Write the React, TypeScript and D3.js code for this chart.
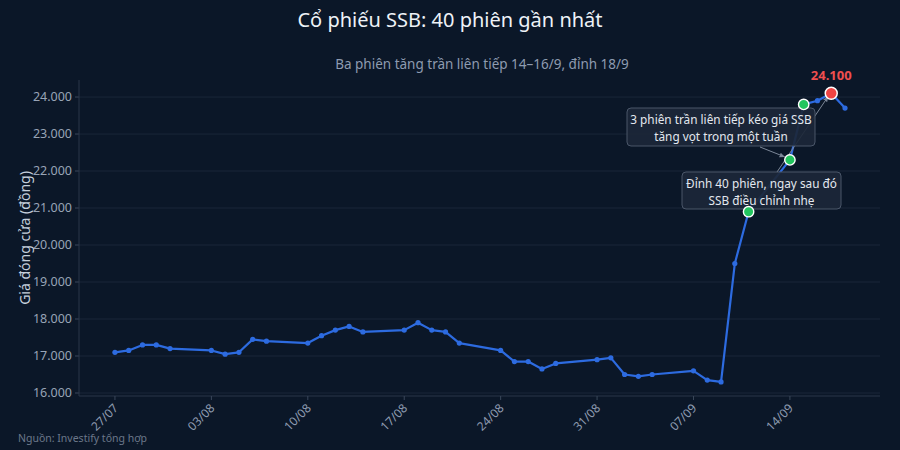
import React from 'react';
import * as d3 from 'd3';

const dates = [
  '2020-07-27', '2020-07-28', '2020-07-29', '2020-07-30', '2020-07-31',
  '2020-08-03', '2020-08-04', '2020-08-05', '2020-08-06', '2020-08-07',
  '2020-08-10', '2020-08-11', '2020-08-12', '2020-08-13', '2020-08-14',
  '2020-08-17', '2020-08-18', '2020-08-19', '2020-08-20', '2020-08-21',
  '2020-08-24', '2020-08-25', '2020-08-26', '2020-08-27', '2020-08-28',
  '2020-08-31', '2020-09-01', '2020-09-02', '2020-09-03', '2020-09-04',
  '2020-09-07', '2020-09-08', '2020-09-09', '2020-09-10', '2020-09-11',
  '2020-09-14', '2020-09-15', '2020-09-16', '2020-09-17', '2020-09-18',
];

const prices = [
  17100, 17150, 17300, 17300, 17200,
  17150, 17050, 17100, 17450, 17400,
  17350, 17550, 17700, 17800, 17650,
  17700, 17900, 17700, 17650, 17350,
  17150, 16850, 16850, 16650, 16800,
  16900, 16950, 16500, 16450, 16500,
  16600, 16350, 16300, 19500, 20900,
  22300, 23800, 23900, 24100, 23700,
];

// green = ceiling sessions, red = peak
const ceilingIdx = [34, 35, 36];
const peakIdx = 38;

const yTicks = [16000, 17000, 18000, 19000, 20000, 21000, 22000, 23000, 24000];
const xTickDates = ['2020-07-27', '2020-08-03', '2020-08-10', '2020-08-17', '2020-08-24', '2020-08-31', '2020-09-07', '2020-09-14'];

const title = 'Cổ phiếu SSB: 40 phiên gần nhất';
const subtitle = 'Ba phiên tăng trần liên tiếp 14–16/9, đỉnh 18/9';
const yLabel = 'Giá đóng cửa (đồng)';
const source = 'Nguồn: Investify tổng hợp';
const noteCeiling = ['3 phiên trần liên tiếp kéo giá SSB', 'tăng vọt trong một tuần'];
const notePeak = ['Đỉnh 40 phiên, ngay sau đó', 'SSB điều chỉnh nhẹ'];

const W = 900;
const H = 450;
const margin = { top: 80, right: 20, bottom: 54, left: 79 };
const font = '"Noto Sans", "Open Sans", sans-serif';

const parse = d3.utcParse('%Y-%m-%d');
const fmtNum = (v: number) => d3.format(',')(v).replace(/,/g, '.');
const fmtDate = d3.utcFormat('%d/%m');

const App: React.FC = () => {
  const data = dates.map((d, i) => ({ date: parse(d)!, price: prices[i] }));
  const day = 86400000;
  const first = data[0].date.getTime();
  const last = data[data.length - 1].date.getTime();

  const x = d3
    .scaleUtc()
    .domain([new Date(first - 2.61 * day), new Date(last + 2.54 * day)])
    .range([margin.left, W - margin.right]);
  const y = d3
    .scaleLinear()
    .domain([15919, 24460])
    .range([H - margin.bottom, margin.top]);

  const line = d3
    .line<{ date: Date; price: number }>()
    .x((d) => x(d.date))
    .y((d) => y(d.price));

  const peak = data[peakIdx];
  const hit = data[35];

  // annotation boxes (pixel layout)
  const box1 = { x: 627, y: 108, w: 188, h: 38 };
  const box2 = { x: 682, y: 172, w: 159, h: 37 };

  return (
    <svg width={W} height={H} style={{ position: 'fixed', left: 0, top: 0, background: '#0b1728' }}>
      <defs>
        <marker id="arr" viewBox="0 0 10 10" refX="9" refY="5" markerWidth="6" markerHeight="6" orient="auto-start-reverse">
          <path d="M0,1 L9,5 L0,9 Z" fill="#7c8798" />
        </marker>
      </defs>
      <rect width={W} height={H} fill="#0b1728" />
      <text x={W / 2} y={27} textAnchor="middle" fontFamily={font} fontSize={20} fill="#eef2f7">
        {title}
      </text>
      <text x={482} y={69} textAnchor="middle" fontFamily={font} fontSize={13.5} fill="#8e9bb0">
        {subtitle}
      </text>

      {/* grid */}
      {yTicks.map((t) => (
        <g key={t}>
          <line x1={margin.left} x2={W - margin.right} y1={y(t)} y2={y(t)} stroke="#1a2739" strokeWidth={1} />
          <line x1={margin.left - 4} x2={margin.left} y1={y(t)} y2={y(t)} stroke="#3a475a" />
          <text x={margin.left - 7} y={y(t)} dy="0.35em" textAnchor="end" fontFamily={font} fontSize={12.5} fill="#98a4b6">
            {fmtNum(t)}
          </text>
        </g>
      ))}

      {/* axes */}
      <line x1={margin.left} x2={margin.left} y1={margin.top} y2={H - margin.bottom} stroke="#2a3648" />
      <line x1={margin.left} x2={W - margin.right} y1={H - margin.bottom} y2={H - margin.bottom} stroke="#2a3648" />
      {xTickDates.map((s) => {
        const d = parse(s)!;
        const px = x(d);
        return (
          <g key={s}>
            <line x1={px} x2={px} y1={H - margin.bottom} y2={H - margin.bottom + 4} stroke="#3a475a" />
            <text
              transform={`translate(${px + 1},${H - margin.bottom + 10}) rotate(-45)`}
              textAnchor="end"
              dy="0.35em"
              fontFamily={font}
              fontSize={12}
              fill="#8e9bb0"
            >
              {fmtDate(d)}
            </text>
          </g>
        );
      })}

      <text
        transform={`translate(30,${(margin.top + H - margin.bottom) / 2}) rotate(-90)`}
        textAnchor="middle"
        fontFamily={font}
        fontSize={14}
        fill="#c5cfdc"
      >
        {yLabel}
      </text>

      {/* series */}
      <path d={line(data) ?? ''} fill="none" stroke="#2d6be0" strokeWidth={2.2} strokeLinejoin="round" />
      {data.map((d, i) => (
        <circle key={i} cx={x(d.date)} cy={y(d.price)} r={2.6} fill="#2d6be0" />
      ))}

      {/* annotations */}
      <line x1={777} y1={box2.y} x2={x(peak.date) - 3} y2={y(peak.price) + 3} stroke="#7c8798" strokeWidth={1} markerEnd="url(#arr)" />
      <rect x={box1.x} y={box1.y} width={box1.w} height={box1.h} rx={4} fill="#1c2738" fillOpacity={0.92} stroke="#4a5669" />
      {noteCeiling.map((t, i) => (
        <text key={t} x={box1.x + box1.w / 2} y={box1.y + 16 + i * 17} textAnchor="middle" fontFamily={font} fontSize={11.8} fill="#e3e8ef">
          {t}
        </text>
      ))}
      <line x1={760} y1={box1.y + box1.h + 1} x2={x(hit.date) - 5} y2={y(hit.price) - 3} stroke="#7c8798" strokeWidth={1} markerEnd="url(#arr)" />
      <rect x={box2.x} y={box2.y} width={box2.w} height={box2.h} rx={4} fill="#1c2738" fillOpacity={0.92} stroke="#4a5669" />
      {notePeak.map((t, i) => (
        <text key={t} x={box2.x + box2.w / 2} y={box2.y + 16 + i * 17} textAnchor="middle" fontFamily={font} fontSize={11.8} fill="#e3e8ef">
          {t}
        </text>
      ))}

      {ceilingIdx.map((i) => (
        <circle key={i} cx={x(data[i].date)} cy={y(data[i].price)} r={5.2} fill="#22c55e" stroke="#ffffff" strokeWidth={1.4} />
      ))}
      <circle cx={x(peak.date)} cy={y(peak.price)} r={6} fill="#ef4444" stroke="#ffffff" strokeWidth={1.5} />
      <text x={x(peak.date)} y={y(peak.price) - 13} textAnchor="middle" fontFamily={font} fontSize={13} fontWeight="bold" fill="#ef4f4f">
        {fmtNum(peak.price)}
      </text>

      <text x={18} y={442} fontFamily={font} fontSize={10.5} fill="#6b778a">
        {source}
      </text>
    </svg>
  );
};

export default App;
